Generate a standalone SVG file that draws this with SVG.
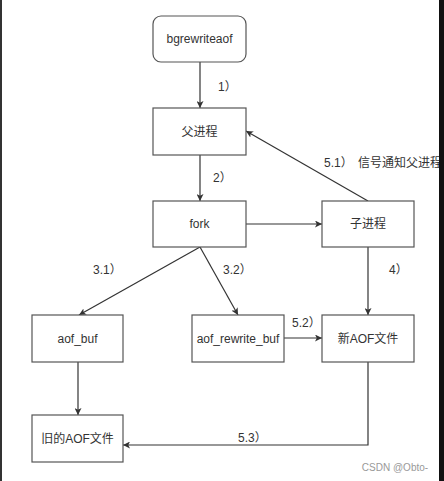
<svg xmlns="http://www.w3.org/2000/svg" width="444" height="481" viewBox="0 0 444 481">
<style>
.box{fill:#fff;stroke:#555;stroke-width:1.2}
.t{font-family:"Liberation Sans","Noto Sans CJK SC",sans-serif;font-size:12px;fill:#333}
.c{text-anchor:middle;dominant-baseline:central}
.ln{fill:none;stroke:#333;stroke-width:1.2;marker-end:url(#ah)}
</style>
<defs>
<marker id="ah" viewBox="0 0 10 10" refX="10" refY="5" markerWidth="7" markerHeight="7" markerUnits="userSpaceOnUse" orient="auto">
<path d="M0,0 L10,5 L0,10 L2.5,5 Z" fill="#333"/>
</marker>
</defs>
<rect width="444" height="481" fill="#fff"/>
<g id="connectors">
<line class="ln" x1="200" y1="62" x2="200" y2="108"/>
<line class="ln" x1="200" y1="155" x2="200" y2="201"/>
<line class="ln" x1="246" y1="224" x2="322" y2="224"/>
<line class="ln" x1="368" y1="201" x2="246" y2="131"/>
<line class="ln" x1="200" y1="247" x2="79" y2="315"/>
<line class="ln" x1="200" y1="247" x2="238" y2="315"/>
<line class="ln" x1="368" y1="247" x2="368" y2="315"/>
<line class="ln" x1="284" y1="338" x2="322" y2="338"/>
<line class="ln" x1="78" y1="362" x2="78" y2="415"/>
<polyline class="ln" points="368,362 368,445 123,445"/>
<text class="t" x="218" y="91">1）</text>
<text class="t" x="213" y="182">2）</text>
<text class="t" x="324" y="167">5.1）<tspan x="358">信号通知父进程</tspan></text>
<text class="t" x="93" y="274">3.1）</text>
<text class="t" x="223" y="274">3.2）</text>
<text class="t" x="389" y="274">4）</text>
<text class="t" x="292" y="327">5.2）</text>
<text class="t" x="238" y="442">5.3）</text>
</g>
<g id="bgrewriteaof"><rect class="box" x="153" y="16" width="93" height="46" rx="8"/><text class="t c" x="199.5" y="39">bgrewriteaof</text></g>
<g id="parent"><rect class="box" x="153" y="108" width="93" height="47"/><text class="t c" x="199.5" y="131.5">父进程</text></g>
<g id="fork"><rect class="box" x="153" y="201" width="93" height="46"/><text class="t c" x="199.5" y="224">fork</text></g>
<g id="child"><rect class="box" x="322" y="201" width="92" height="46"/><text class="t c" x="368" y="224">子进程</text></g>
<g id="aof_buf"><rect class="box" x="32" y="315" width="91" height="47"/><text class="t c" x="77.5" y="338.5">aof_buf</text></g>
<g id="aof_rewrite_buf"><rect class="box" x="192" y="315" width="92" height="47"/><text class="t c" x="238" y="338.5">aof_rewrite_buf</text></g>
<g id="newaof"><rect class="box" x="322" y="315" width="92" height="47"/><text class="t c" x="368" y="338.5">新AOF文件</text></g>
<g id="oldaof"><rect class="box" x="32" y="415" width="91" height="47"/><text class="t c" x="77.5" y="438.5">旧的AOF文件</text></g>
<text x="395" y="471" text-anchor="middle" font-family="Liberation Sans, sans-serif" font-size="10" fill="#999">CSDN @Obto-</text>
<rect x="0" y="0" width="2" height="481" fill="#333"/>
<rect x="439" y="0" width="5" height="481" fill="#111"/>
</svg>
